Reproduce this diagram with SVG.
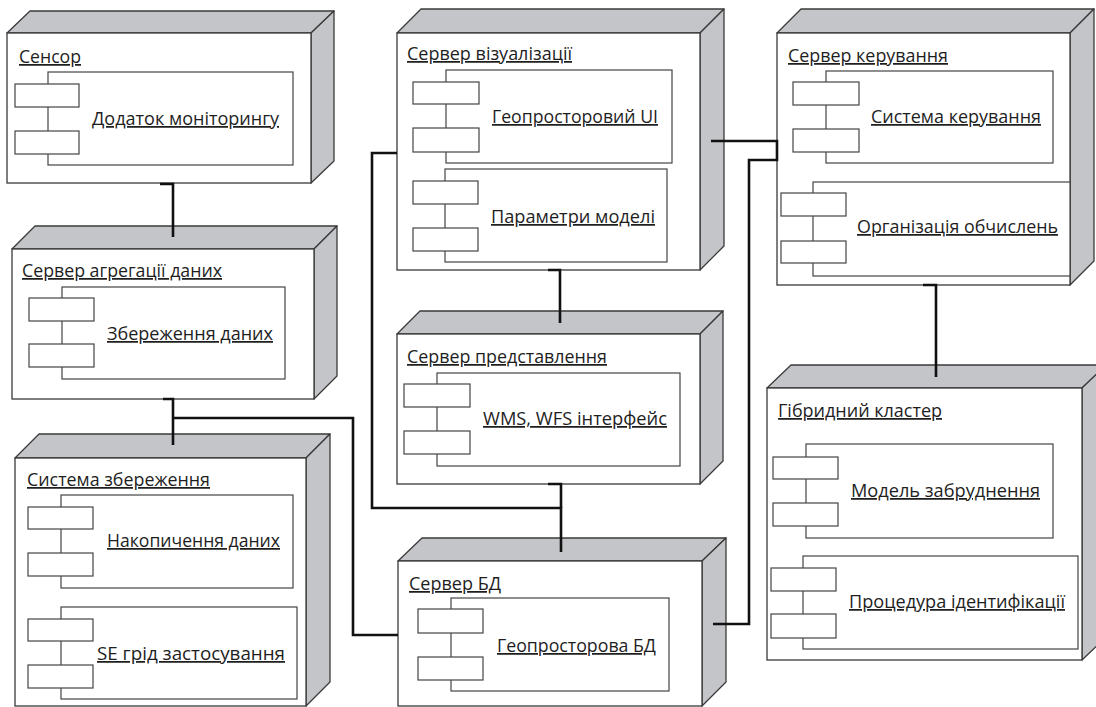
<svg xmlns="http://www.w3.org/2000/svg" width="1096" height="707" viewBox="0 0 1096 707">
<style>
.front{fill:#fff;stroke:#3a3a3a;stroke-width:1.3}
.shade{fill:#c4c5c8;stroke:#3a3a3a;stroke-width:1.3;stroke-linejoin:round}
.comp{fill:#fff;stroke:#444;stroke-width:1.2}
.conn{fill:none;stroke:#111;stroke-width:2.6;stroke-linejoin:miter}
text{font-family:"Open Sans","Noto Sans","DejaVu Sans",sans-serif;font-size:17.5px;fill:#1e1e1e;text-decoration:underline}
</style>
<rect width="1096" height="707" fill="#fff"/>

<g id="sensor">
<polygon class="shade" points="7,33 30,11 334,11 311,33"/>
<polygon class="shade" points="311,33 334,11 334,161 311,183"/>
<rect class="front" x="7" y="33" width="304" height="150"/>
<text x="19" y="63" textLength="62" lengthAdjust="spacingAndGlyphs">Сенсор</text>
<g id="c-monitoring">
<rect class="comp" x="48" y="72" width="245" height="93"/>
<rect class="comp" x="15" y="84" width="64" height="23"/>
<rect class="comp" x="15" y="131" width="64" height="23"/>
<text x="92" y="125" textLength="187" lengthAdjust="spacingAndGlyphs">Додаток моніторингу</text>
</g>
</g>

<g id="aggregation">
<polygon class="shade" points="12,249 35,226 337,226 314,249"/>
<polygon class="shade" points="314,249 337,226 337,376 314,399"/>
<rect class="front" x="12" y="249" width="302" height="150"/>
<text x="22" y="277" textLength="200" lengthAdjust="spacingAndGlyphs">Сервер агрегації даних</text>
<g id="c-storage">
<rect class="comp" x="62" y="287" width="223" height="92"/>
<rect class="comp" x="29" y="298" width="65" height="23"/>
<rect class="comp" x="29" y="344" width="65" height="23"/>
<text x="107" y="340" textLength="166" lengthAdjust="spacingAndGlyphs">Збереження даних</text>
</g>
</g>

<g id="storage-system">
<polygon class="shade" points="15,458 39,434 330,434 306,458"/>
<polygon class="shade" points="306,458 330,434 330,682 306,706"/>
<rect class="front" x="15" y="458" width="291" height="248"/>
<text x="27" y="486" textLength="183" lengthAdjust="spacingAndGlyphs">Система збереження</text>
<g id="c-accum">
<rect class="comp" x="61" y="495" width="232" height="93"/>
<rect class="comp" x="28" y="507" width="65" height="22"/>
<rect class="comp" x="28" y="553" width="65" height="23"/>
<text x="107" y="547" textLength="173" lengthAdjust="spacingAndGlyphs">Накопичення даних</text>
</g>
<g id="c-segrid">
<rect class="comp" x="61" y="607" width="236" height="92"/>
<rect class="comp" x="28" y="619" width="65" height="22"/>
<rect class="comp" x="28" y="665" width="65" height="23"/>
<text x="97" y="660" textLength="188" lengthAdjust="spacingAndGlyphs">SE грід застосування</text>
</g>
</g>

<g id="visualization">
<polygon class="shade" points="397,33 421,9 724,9 700,33"/>
<polygon class="shade" points="700,33 724,9 724,246 700,270"/>
<rect class="front" x="397" y="33" width="303" height="237"/>
<text x="407" y="60" textLength="165" lengthAdjust="spacingAndGlyphs">Сервер візуалізації</text>
<g id="c-geoui">
<rect class="comp" x="446" y="70" width="226" height="93"/>
<rect class="comp" x="413" y="82" width="66" height="22"/>
<rect class="comp" x="413" y="128" width="66" height="24"/>
<text x="492" y="123" textLength="166" lengthAdjust="spacingAndGlyphs">Геопросторовий UI</text>
</g>
<g id="c-params">
<rect class="comp" x="445" y="169" width="222" height="93"/>
<rect class="comp" x="413" y="181" width="65" height="23"/>
<rect class="comp" x="413" y="228" width="65" height="23"/>
<text x="491" y="223" textLength="164" lengthAdjust="spacingAndGlyphs">Параметри моделі</text>
</g>
</g>

<g id="presentation">
<polygon class="shade" points="397,334 420,311 723,311 700,334"/>
<polygon class="shade" points="700,334 723,311 723,461 700,484"/>
<rect class="front" x="397" y="334" width="303" height="150"/>
<text x="407" y="363" textLength="200" lengthAdjust="spacingAndGlyphs">Сервер представлення</text>
<g id="c-wms">
<rect class="comp" x="437" y="373" width="243" height="93"/>
<rect class="comp" x="404" y="384" width="66" height="23"/>
<rect class="comp" x="404" y="431" width="66" height="23"/>
<text x="483" y="425" textLength="184" lengthAdjust="spacingAndGlyphs">WMS, WFS інтерфейс</text>
</g>
</g>

<g id="db-server">
<polygon class="shade" points="398,561 422,538 726,538 702,561"/>
<polygon class="shade" points="702,561 726,538 726,682 702,706"/>
<rect class="front" x="398" y="561" width="304" height="145"/>
<text x="409" y="590" textLength="92" lengthAdjust="spacingAndGlyphs">Сервер БД</text>
<g id="c-geodb">
<rect class="comp" x="451" y="598" width="218" height="93"/>
<rect class="comp" x="418" y="609" width="65" height="24"/>
<rect class="comp" x="418" y="657" width="65" height="23"/>
<text x="497" y="652" textLength="159" lengthAdjust="spacingAndGlyphs">Геопросторова БД</text>
</g>
</g>

<g id="control">
<polygon class="shade" points="777,33 801,9 1094,9 1070,33"/>
<polygon class="shade" points="1070,33 1094,9 1094,261 1070,285"/>
<rect class="front" x="777" y="33" width="293" height="252"/>
<text x="788" y="62" textLength="160" lengthAdjust="spacingAndGlyphs">Сервер керування</text>
<g id="c-control-sys">
<rect class="comp" x="826" y="71" width="227" height="92"/>
<rect class="comp" x="793" y="82" width="66" height="23"/>
<rect class="comp" x="793" y="129" width="66" height="23"/>
<text x="871" y="123" textLength="170" lengthAdjust="spacingAndGlyphs">Система керування</text>
</g>
<g id="c-compute">
<rect class="comp" x="813" y="182" width="257" height="94"/>
<rect class="comp" x="781" y="193" width="65" height="23"/>
<rect class="comp" x="781" y="241" width="65" height="22"/>
<text x="857" y="233" textLength="201" lengthAdjust="spacingAndGlyphs">Організація обчислень</text>
</g>
</g>

<g id="hybrid">
<polygon class="shade" points="767,388 791,365 1106,365 1082,388"/>
<polygon class="shade" points="1082,388 1106,365 1106,637 1082,660"/>
<rect class="front" x="767" y="388" width="315" height="272"/>
<text x="778" y="417" textLength="164" lengthAdjust="spacingAndGlyphs">Гібридний кластер</text>
<g id="c-pollution">
<rect class="comp" x="806" y="444" width="247" height="94"/>
<rect class="comp" x="773" y="457" width="65" height="22"/>
<rect class="comp" x="773" y="503" width="65" height="23"/>
<text x="851" y="497" textLength="189" lengthAdjust="spacingAndGlyphs">Модель забруднення</text>
</g>
<g id="c-ident">
<rect class="comp" x="803" y="556" width="275" height="93"/>
<rect class="comp" x="771" y="568" width="65" height="23"/>
<rect class="comp" x="771" y="614" width="65" height="24"/>
<text x="849" y="608" textLength="216" lengthAdjust="spacingAndGlyphs">Процедура ідентифікації</text>
</g>
</g>

<g id="connectors">
<path class="conn" d="M160,184 H173 V237"/>
<path class="conn" d="M163,399 H173 V445"/>
<path class="conn" d="M173,418 H353 V635 H398"/>
<path class="conn" d="M397,153 H372 V508 H561 V552"/>
<path class="conn" d="M548,270 H560 V323"/>
<path class="conn" d="M548,484 H561 V508"/>
<path class="conn" d="M711,141 H777 V160 H749 V624 H713"/>
<path class="conn" d="M923,285 H936 V377"/>
</g>
</svg>
